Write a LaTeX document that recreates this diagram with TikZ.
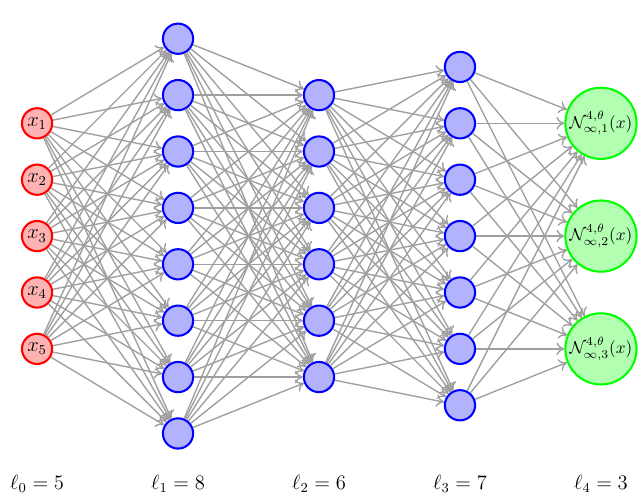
\documentclass[tikz,border=0pt]{standalone}
\usetikzlibrary{arrows.meta}
\begin{document}
\begin{tikzpicture}[x=2.89cm,y=1.156cm]
    \tikzset{
        innode/.style={circle, draw=red, fill=red!30, line width=1.2pt, minimum size=0.62cm, inner sep=0pt, font=\large},
        hidnode/.style={circle, draw=blue, fill=blue!30, line width=1.2pt, minimum size=0.62cm, inner sep=0pt},
        outnode/.style={circle, draw=green, fill=green!30, line width=1.2pt, minimum size=1.46cm, inner sep=0pt},
        edge/.style={-{To[length=1.6mm,width=2.6mm]}, draw=gray!75, line width=0.8pt},
        width/.style={font=\large}
    }
    \useasboundingbox (-0.263,4.187) rectangle (4.277,-4.645);
    % layers
    \foreach \i in {1,...,5} \node[innode] (x\i) at (0,3-\i) {$x_{\i}$};
    \foreach \i in {1,...,8} \node[hidnode] (a\i) at (1,4.5-\i) {};
    \foreach \i in {1,...,6} \node[hidnode] (b\i) at (2,3.5-\i) {};
    \foreach \i in {1,...,7} \node[hidnode] (c\i) at (3,4-\i) {};
    \foreach \i in {1,2,3} \node[outnode] (y\i) at (4,4-2*\i) {$\mathcal{N}^{4,\theta}_{\infty,\i}(x)$};
    % connections
    \foreach \i in {1,...,5} \foreach \j in {1,...,8} \draw[edge] (x\i) -- (a\j);
    \foreach \i in {1,...,8} \foreach \j in {1,...,6} \draw[edge] (a\i) -- (b\j);
    \foreach \i in {1,...,6} \foreach \j in {1,...,7} \draw[edge] (b\i) -- (c\j);
    \foreach \i in {1,...,7} \foreach \j in {1,2,3} \draw[edge] (c\i) -- (y\j);
    % widths
    \node[width] (l0) at (0,-4.4) {$\ell_0 = 5$};
    \node[width] (l1) at (1,-4.4) {$\ell_1 = 8$};
    \node[width] (l2) at (2,-4.4) {$\ell_2 = 6$};
    \node[width] (l3) at (3,-4.4) {$\ell_3 = 7$};
    \node[width] (l4) at (4,-4.4) {$\ell_4 = 3$};
\end{tikzpicture}
\end{document}
